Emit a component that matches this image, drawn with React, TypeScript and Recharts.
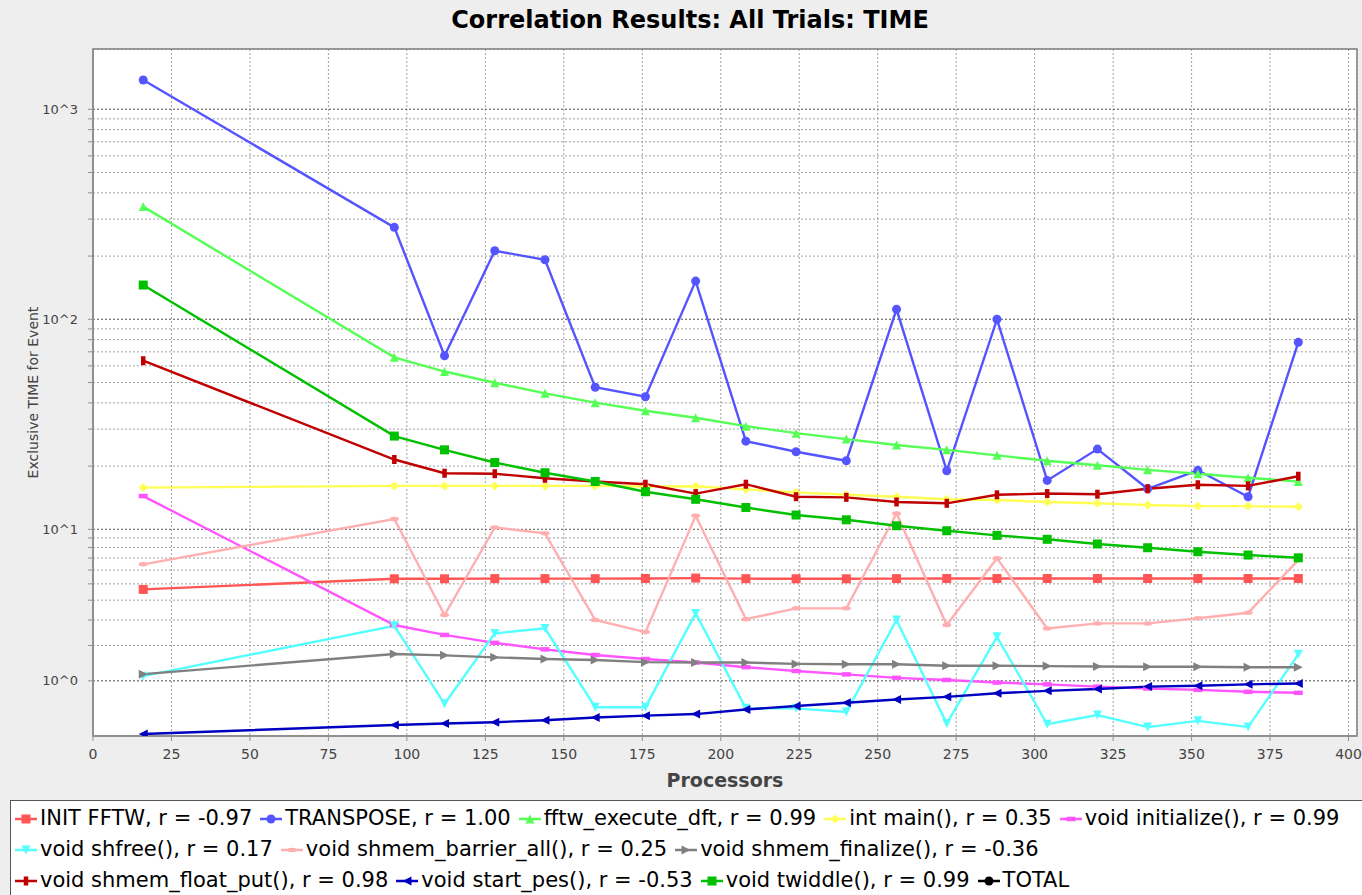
import React from "react";
import {
  LineChart,
  Line,
  XAxis,
  YAxis,
  CartesianGrid,
  Legend,
  ReferenceArea,
  ReferenceLine,
} from "recharts";

// processors (x) for every trial
const procs = [16, 96, 112, 128, 144, 160, 176, 192, 208, 224, 240, 256, 272, 288, 304, 320, 336, 352, 368, 384];

// exclusive time per event
const initFftw = [4.64, 5.35, 5.35, 5.36, 5.36, 5.36, 5.37, 5.4, 5.36, 5.35, 5.35, 5.36, 5.37, 5.37, 5.37, 5.37, 5.37, 5.37, 5.37, 5.37];
const transpose = [1379, 274, 67.1, 212, 192, 47.5, 42.8, 152, 26.3, 23.4, 21.2, 111.6, 19.0, 100, 17.1, 24.1, 15.6, 19.1, 14.3, 77.7];
const fftwExecuteDft = [344, 65.9, 56.4, 49.9, 44.4, 40.1, 36.7, 34.0, 31.0, 28.7, 26.9, 25.2, 23.9, 22.5, 21.2, 20.2, 19.2, 18.4, 17.6, 16.9];
const intMain = [15.8, 16.1, 16.1, 16.1, 16.1, 16.1, 16.0, 16.05, 15.5, 15.0, 14.6, 14.3, 13.9, 13.8, 13.5, 13.3, 13.05, 12.9, 12.9, 12.8];
const initialize = [14.4, 2.78, 2.38, 2.09, 1.87, 1.69, 1.57, 1.47, 1.34, 1.24, 1.155, 1.07, 1.02, 0.96, 0.92, 0.87, 0.83, 0.8, 0.76, 0.74];
const shfree = [1.11, 2.75, 0.53, 2.44, 2.64, 0.47, 0.47, 3.31, 0.45, 0.45, 0.39, 3.0, 0.21, 2.31, 0.2, 0.34, 0.16, 0.25, 0.16, 1.71];
const barrierAll = [6.46, 11.2, 3.23, 10.2, 9.52, 3.0, 2.49, 11.6, 3.04, 3.56, 3.56, 11.9, 2.78, 6.98, 2.64, 2.85, 2.85, 3.08, 3.34, 6.82];
const finalize = [1.16, 1.72, 1.68, 1.62, 1.57, 1.54, 1.48, 1.47, 1.47, 1.43, 1.42, 1.42, 1.38, 1.38, 1.37, 1.36, 1.35, 1.35, 1.34, 1.34];
const floatPut = [63.5, 21.5, 18.5, 18.4, 17.5, 16.9, 16.4, 14.8, 16.4, 14.3, 14.2, 13.5, 13.3, 14.6, 14.8, 14.7, 15.6, 16.3, 16.1, 17.9];
const startPes = [0.067, 0.19, 0.21, 0.23, 0.26, 0.3, 0.33, 0.355, 0.43, 0.49, 0.55, 0.61, 0.66, 0.73, 0.78, 0.82, 0.87, 0.89, 0.92, 0.94];
const twiddle = [145.6, 27.8, 23.9, 20.8, 18.6, 16.9, 15.1, 13.9, 12.7, 11.7, 11.1, 10.4, 9.83, 9.29, 8.85, 8.35, 7.97, 7.58, 7.27, 7.02];
const total: number[] = []; // legend only, nothing drawn

const xTicks = [0, 25, 50, 75, 100, 125, 150, 175, 200, 225, 250, 275, 300, 325, 350, 375, 400];

type Shape = "square" | "circle" | "up" | "diamond" | "hrect" | "down" | "ellipse" | "right" | "vrect" | "left";

const series: { key: string; label: string; color: string; shape: Shape; values: number[] }[] = [
  { key: "initFftw", label: "INIT FFTW, r = -0.97", color: "#ff5555", shape: "square", values: initFftw },
  { key: "transpose", label: "TRANSPOSE, r = 1.00", color: "#5555ff", shape: "circle", values: transpose },
  { key: "fftw", label: "fftw_execute_dft, r = 0.99", color: "#55ff55", shape: "up", values: fftwExecuteDft },
  { key: "main", label: "int main(), r = 0.35", color: "#ffff55", shape: "diamond", values: intMain },
  { key: "init", label: "void initialize(), r = 0.99", color: "#ff55ff", shape: "hrect", values: initialize },
  { key: "shfree", label: "void shfree(), r = 0.17", color: "#55ffff", shape: "down", values: shfree },
  { key: "barrier", label: "void shmem_barrier_all(), r = 0.25", color: "#ffafaf", shape: "ellipse", values: barrierAll },
  { key: "finalize", label: "void shmem_finalize(), r = -0.36", color: "#808080", shape: "right", values: finalize },
  { key: "put", label: "void shmem_float_put(), r = 0.98", color: "#c00000", shape: "vrect", values: floatPut },
  { key: "pes", label: "void start_pes(), r = -0.53", color: "#0000c0", shape: "left", values: startPes },
  { key: "twiddle", label: "void twiddle(), r = 0.99", color: "#00c000", shape: "square", values: twiddle },
  { key: "total", label: "TOTAL", color: "#000000", shape: "circle", values: total },
];

const legendRows = [[0, 1, 2, 3, 4], [5, 6, 7], [8, 9, 10, 11]];

// JFreeChart LogarithmicAxis "adjusted" log10 (values below 10 are squeezed)
const adjLog = (v: number) => {
  let x = v;
  if (x < 10) x += (10 - x) / 10;
  return Math.log10(x);
};

const yTicks: { v: number; label: string }[] = [];
for (let d = 0; d < 3; d++) {
  for (let k = 1; k < 10; k++) yTicks.push({ v: k * Math.pow(10, d), label: k === 1 ? `10^${d}` : "" });
}
yTicks.push({ v: 1000, label: "10^3" });
const yTickPos = yTicks.map((t) => adjLog(t.v));
const decades = [1, 10, 100, 1000];

const Y_MIN = 0.016;
const Y_MAX = 3.287;
const X_MAX = 402.7;

const data = procs.map((p, i) => {
  const row: Record<string, number | null> = { x: p };
  series.forEach((s) => {
    row[s.key] = s.values[i] != null ? adjLog(s.values[i]) : null;
  });
  return row;
});

function Marker({ cx, cy, shape, color }: { cx: number; cy: number; shape: Shape; color: string }) {
  const h = 4.5;
  switch (shape) {
    case "square":
      return <rect x={cx - h} y={cy - h} width={2 * h} height={2 * h} fill={color} />;
    case "circle":
      return <circle cx={cx} cy={cy} r={h} fill={color} />;
    case "up":
      return <polygon points={`${cx},${cy - h} ${cx + h},${cy + h} ${cx - h},${cy + h}`} fill={color} />;
    case "down":
      return <polygon points={`${cx},${cy + h} ${cx + h},${cy - h} ${cx - h},${cy - h}`} fill={color} />;
    case "right":
      return <polygon points={`${cx + h},${cy} ${cx - h},${cy - h} ${cx - h},${cy + h}`} fill={color} />;
    case "left":
      return <polygon points={`${cx - h},${cy} ${cx + h},${cy - h} ${cx + h},${cy + h}`} fill={color} />;
    case "diamond":
      return <polygon points={`${cx},${cy - h} ${cx + h},${cy} ${cx},${cy + h} ${cx - h},${cy}`} fill={color} />;
    case "hrect":
      return <rect x={cx - h} y={cy - h / 2} width={2 * h} height={h} fill={color} />;
    case "vrect":
      return <rect x={cx - h / 2} y={cy - h} width={h} height={2 * h} fill={color} />;
    case "ellipse":
      return <ellipse cx={cx} cy={cy} rx={h} ry={h / 2} fill={color} />;
  }
  return null;
}

function LegendBox() {
  return (
    <div style={{ padding: "2px 0 0 4px", fontSize: 21, color: "#000", lineHeight: "31px" }}>
      {legendRows.map((row, ri) => (
        <div key={ri} style={{ display: "flex", whiteSpace: "nowrap" }}>
          {row.map((i) => {
            const s = series[i];
            return (
              <span key={s.key} style={{ display: "inline-flex", alignItems: "center", marginRight: 8 }}>
                <svg width={22} height={12}>
                  <line x1={0} y1={6} x2={22} y2={6} stroke={s.color} strokeWidth={2.5} />
                  <Marker cx={11} cy={6} shape={s.shape} color={s.color} />
                </svg>
                <span style={{ marginLeft: 3 }}>{s.label}</span>
              </span>
            );
          })}
        </div>
      ))}
    </div>
  );
}

export default function App() {
  return (
    <div
      style={{
        position: "absolute",
        left: 0,
        top: 0,
        width: 1362,
        height: 895,
        overflow: "hidden",
        background: "#eeeeee",
        fontFamily: "'DejaVu Sans', sans-serif",
      }}
    >
      <div
        style={{
          position: "absolute",
          top: 6,
          left: 0,
          width: 1380,
          textAlign: "center",
          fontSize: 24,
          fontWeight: "bold",
          color: "#000",
        }}
      >
        Correlation Results: All Trials: TIME
      </div>
      <LineChart width={1362} height={895} data={data} margin={{ top: 49, right: 5, bottom: 104, left: 10 }}>
        <CartesianGrid stroke="#a0a0a0" strokeDasharray="2 2" fill="#ffffff" />
        {decades.map((d) => (
          <ReferenceLine key={d} y={adjLog(d)} stroke="#707070" strokeDasharray="2 2" />
        ))}
        <ReferenceArea x1={0} x2={X_MAX} y1={Y_MIN} y2={Y_MAX} fill="none" stroke="#808080" strokeWidth={1.5} />
        <XAxis
          type="number"
          dataKey="x"
          domain={[0, X_MAX]}
          ticks={xTicks}
          allowDataOverflow
          height={55}
          tickSize={5}
          tickMargin={8}
          axisLine={{ stroke: "#909090", strokeWidth: 2 }}
          tickLine={{ stroke: "#909090" }}
          tick={{ fill: "#444", fontSize: 14 }}
          label={{
            value: "Processors",
            position: "insideBottom",
            offset: 4,
            style: { fontWeight: "bold", fontSize: 19, fill: "#444" },
          }}
        />
        <YAxis
          type="number"
          domain={[Y_MIN, Y_MAX]}
          ticks={yTickPos}
          allowDataOverflow
          width={83}
          tickSize={5}
          tickMargin={10}
          interval={0}
          axisLine={{ stroke: "#909090", strokeWidth: 2 }}
          tickLine={{ stroke: "#909090" }}
          tick={{ fill: "#444", fontSize: 13 }}
          tickFormatter={(v: number) => {
            const idx = yTickPos.findIndex((p) => Math.abs(p - v) < 1e-9);
            return idx >= 0 ? yTicks[idx].label : "";
          }}
          label={{
            value: "Exclusive TIME for Event",
            angle: -90,
            position: "insideLeft",
            offset: 23,
            style: { textAnchor: "middle", fontSize: 14, fill: "#444" },
          }}
        />
        {series
          .filter((s) => s.values.length > 0)
          .map((s) => (
            <Line
              key={s.key}
              type="linear"
              dataKey={s.key}
              name={s.label}
              stroke={s.color}
              strokeWidth={2.4}
              isAnimationActive={false}
              activeDot={false}
              dot={(p: any) => (
                <Marker key={`${s.key}-${p.index}`} cx={p.cx} cy={p.cy} shape={s.shape} color={s.color} />
              )}
            />
          ))}
        <Legend
          layout="horizontal"
          align="center"
          verticalAlign="middle"
          content={() => <LegendBox />}
          wrapperStyle={{
            left: 10,
            top: 800,
            width: 1400,
            height: 120,
            background: "#ffffff",
            border: "1px solid #555",
            boxSizing: "border-box",
          }}
        />
      </LineChart>
    </div>
  );
}
